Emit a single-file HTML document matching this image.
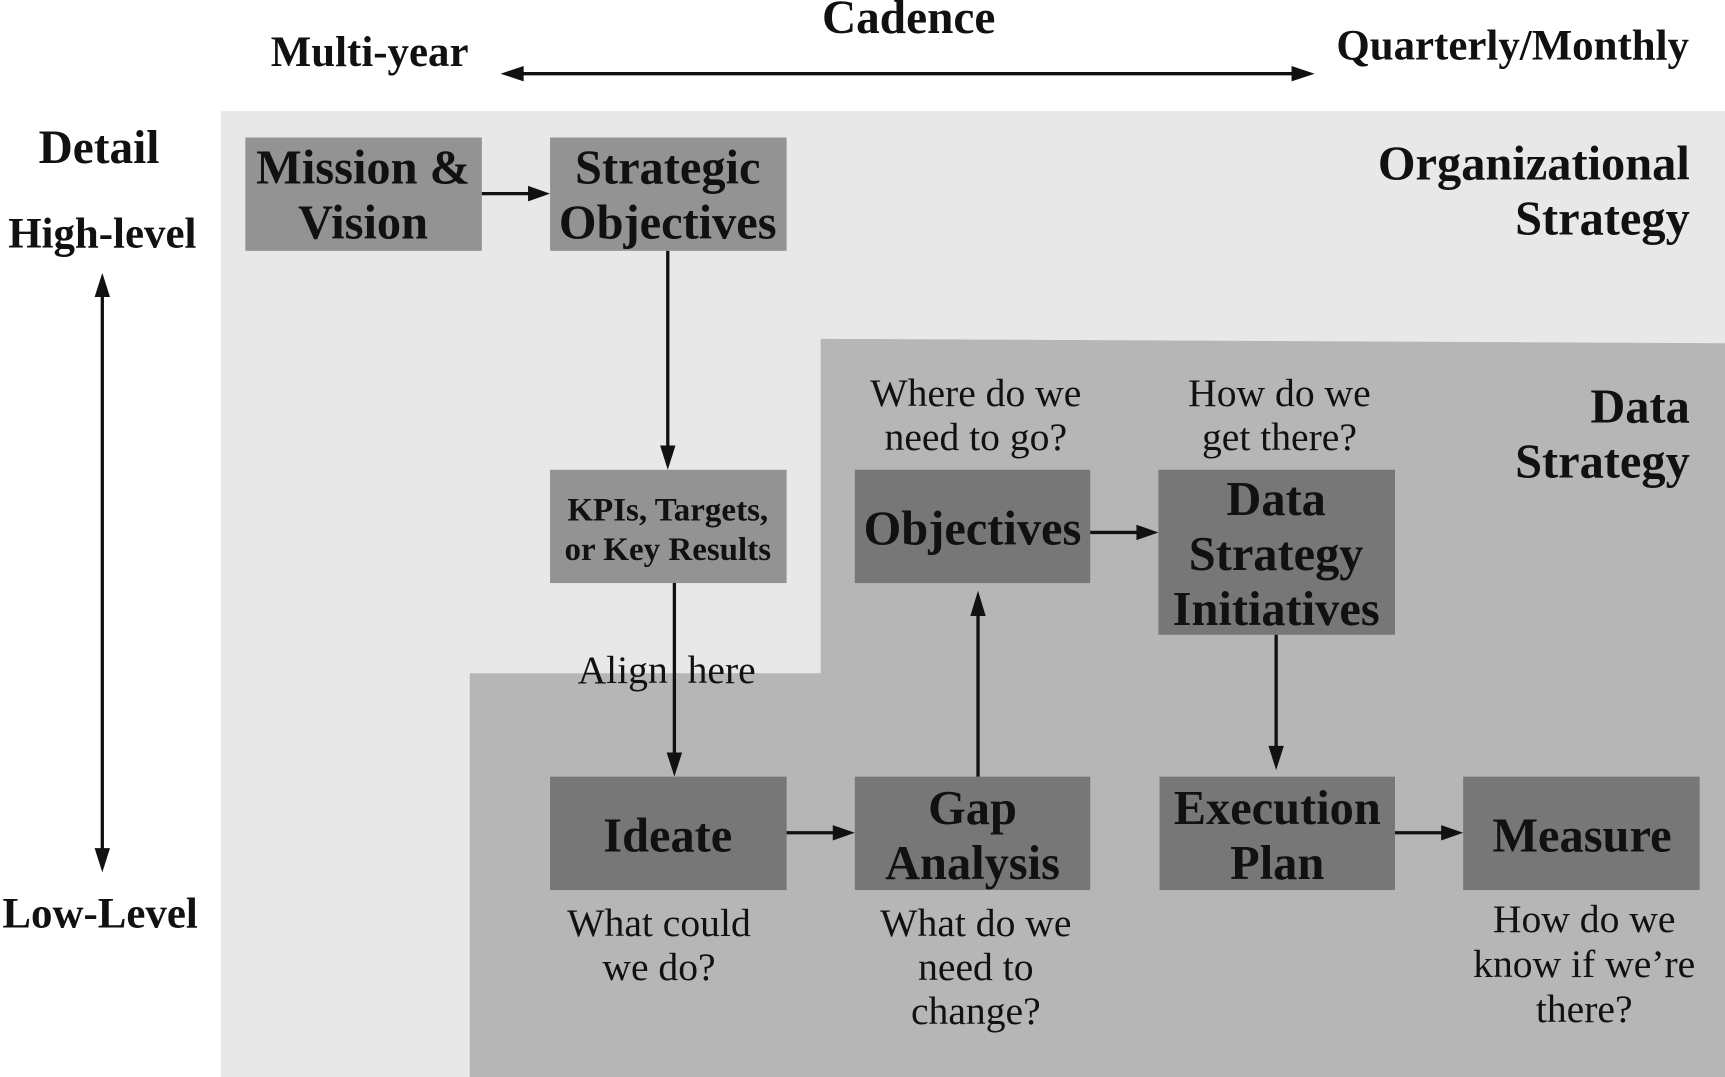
<!DOCTYPE html>
<html><head><meta charset="utf-8"><style>
html,body{margin:0;padding:0;background:#fff;}
svg{display:block;}
text{font-family:"Liberation Serif",serif;fill:#111;}
.b{font-weight:bold;}
</style></head><body>
<svg width="1725" height="1077" viewBox="0 0 1568 979" preserveAspectRatio="none" xmlns="http://www.w3.org/2000/svg">
<rect x="201" y="101" width="1367" height="878" fill="#e8e8e8"/>
<polygon points="746,308 1568,312 1568,979 427,979 427,612 746,612" fill="#b6b6b6"/>
<g fill="#939393">
<rect x="223" y="125" width="215" height="103"/>
<rect x="500" y="125" width="215" height="103"/>
<rect x="500" y="427" width="215" height="103"/>
</g>
<g fill="#777">
<rect x="777" y="427" width="214" height="103"/>
<rect x="1053" y="427" width="215" height="150"/>
<rect x="500" y="706" width="215" height="103"/>
<rect x="777" y="706" width="214" height="103"/>
<rect x="1054" y="706" width="214" height="103"/>
<rect x="1330" y="706" width="215" height="103"/>
</g>
<g stroke="#111" stroke-width="3" fill="none">
<line x1="438" y1="176" x2="482" y2="176"/>
<line x1="607" y1="228" x2="607" y2="408"/>
<line x1="613" y1="530" x2="613" y2="688"/>
<line x1="715" y1="757" x2="759" y2="757"/>
<line x1="889" y1="706" x2="889" y2="556"/>
<line x1="991" y1="484" x2="1035" y2="484"/>
<line x1="1160" y1="577" x2="1160" y2="682"/>
<line x1="1268" y1="757" x2="1312" y2="757"/>
<line x1="472" y1="67" x2="1178" y2="67"/>
<line x1="93" y1="266" x2="93" y2="775"/>
</g>
<g fill="#111">
<polygon points="500,176 480,169 480,183"/>
<polygon points="607,427 600,405 614,405"/>
<polygon points="613,706 606,684 620,684"/>
<polygon points="777,757 757,750 757,764"/>
<polygon points="889,537 882,560 896,560"/>
<polygon points="1053,484 1033,477 1033,491"/>
<polygon points="1160,700 1153,678 1167,678"/>
<polygon points="1330,757 1310,750 1310,764"/>
<polygon points="455,67 476,60 476,74"/>
<polygon points="1195,67 1174,60 1174,74"/>
<polygon points="93,248 86,270 100,270"/>
<polygon points="93,793 86,771 100,771"/>
</g>
<g class="b" text-anchor="middle">
<text x="826" y="30" font-size="43">Cadence</text>
<text x="336" y="60" font-size="39">Multi-year</text>
<text x="1375" y="54" font-size="39">Quarterly/Monthly</text>
<text x="90" y="148" font-size="43">Detail</text>
<text x="93" y="225" font-size="39">High-level</text>
<text x="91" y="843" font-size="39">Low-Level</text>
</g>
<g class="b" font-size="44" text-anchor="end">
<text x="1536" y="163">Organizational</text>
<text x="1536" y="213">Strategy</text>
<text x="1536" y="384">Data</text>
<text x="1536" y="434">Strategy</text>
</g>
<g class="b" font-size="44" text-anchor="middle">
<text x="330" y="167">Mission &amp;</text>
<text x="330" y="217">Vision</text>
<text x="607" y="167">Strategic</text>
<text x="607" y="217">Objectives</text>
<text x="607" y="473" font-size="30">KPIs, Targets,</text>
<text x="607" y="509" font-size="30">or Key Results</text>
<text x="884" y="495">Objectives</text>
<text x="1160" y="468">Data</text>
<text x="1160" y="518">Strategy</text>
<text x="1160" y="568">Initiatives</text>
<text x="607" y="774">Ideate</text>
<text x="884" y="749">Gap</text>
<text x="884" y="799">Analysis</text>
<text x="1161" y="749">Execution</text>
<text x="1161" y="799">Plan</text>
<text x="1438" y="774">Measure</text>
</g>
<g font-size="36" text-anchor="middle">
<text x="887" y="369">Where do we</text>
<text x="887" y="409">need to go?</text>
<text x="1163" y="369">How do we</text>
<text x="1163" y="409">get there?</text>
<text x="566" y="621">Align</text>
<text x="656" y="621">here</text>
<text x="599" y="851">What could</text>
<text x="599" y="891">we do?</text>
<text x="887" y="851">What do we</text>
<text x="887" y="891">need to</text>
<text x="887" y="931">change?</text>
<text x="1440" y="847">How do we</text>
<text x="1440" y="888">know if we’re</text>
<text x="1440" y="929">there?</text>
</g>
</svg>
</body></html>
